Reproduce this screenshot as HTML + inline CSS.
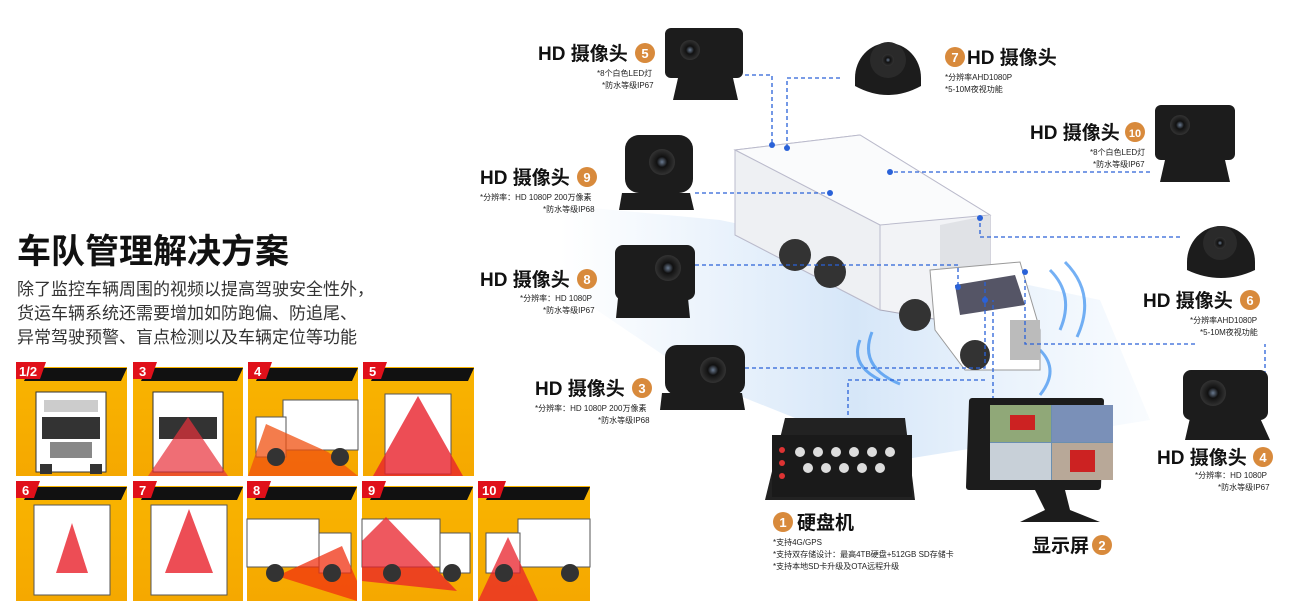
<!DOCTYPE html>
<html><head><meta charset="utf-8"><style>
html,body{margin:0;padding:0;background:#fff;}
svg{display:block;font-family:"Liberation Sans","Noto Sans CJK SC",sans-serif;}
.lb{font-size:19px;font-weight:bold;fill:#111;}
.sm{font-size:8px;fill:#222;}
.dash{stroke:#2a62d8;stroke-width:1.3;stroke-dasharray:4 3;fill:none;}
.bd{fill:#d88a3c;}
.bt{fill:#fff;font-size:13px;font-weight:bold;text-anchor:middle;}
.cam{fill:#1c1c1c;}
.hd{fill:#111;}
.nm{fill:#e0101a;}
.nt{font-size:13px;font-weight:bold;fill:#fff;}
</style></head><body>
<svg width="1300" height="615" viewBox="0 0 1300 615">
<defs>
<linearGradient id="sh" x1="0" y1="0" x2="1" y2="0"><stop offset="0" stop-color="#cfe3f8" stop-opacity="0"/><stop offset="0.5" stop-color="#c8def6"/><stop offset="1" stop-color="#d6e8fa" stop-opacity="0.2"/></linearGradient>
<linearGradient id="gr" x1="0" y1="0" x2="0" y2="1"><stop offset="0" stop-color="#f9b400"/><stop offset="1" stop-color="#f5a800"/></linearGradient>
<radialGradient id="lens"><stop offset="0" stop-color="#6a7a90"/><stop offset="0.4" stop-color="#111"/><stop offset="1" stop-color="#333"/></radialGradient>
</defs>

<text x="17" y="263" style="font-size:34px;font-weight:bold;fill:#111">车队管理解决方案</text>
<text x="17" y="295" style="font-size:17px;fill:#333">除了监控车辆周围的视频以提高驾驶安全性外，</text>
<text x="17" y="319" style="font-size:17px;fill:#333">货运车辆系统还需要增加如防跑偏、防追尾、</text>
<text x="17" y="343" style="font-size:17px;fill:#333">异常驾驶预警、盲点检测以及车辆定位等功能</text>

<!-- Tiles row 1 -->
<g transform="translate(16,362)"><rect y="5" width="111" height="109" fill="url(#gr)"/><polygon points="14,6 111,6 105,19 8,19" class="hd"/><polygon points="0,0 30,0 24,17 0,17" class="nm"/><text x="3" y="14" class="nt">1/2</text>
<rect x="20" y="30" width="70" height="80" fill="#fff" stroke="#333"/><rect x="28" y="38" width="54" height="12" fill="#ccc"/><rect x="26" y="55" width="58" height="22" fill="#333"/><rect x="34" y="80" width="42" height="16" fill="#888"/><rect x="24" y="102" width="12" height="10" fill="#333"/><rect x="74" y="102" width="12" height="10" fill="#333"/></g>
<g transform="translate(133,362)"><rect y="5" width="110" height="109" fill="url(#gr)"/><polygon points="14,6 110,6 104,19 8,19" class="hd"/><polygon points="0,0 24,0 18,17 0,17" class="nm"/><text x="6" y="14" class="nt">3</text>
<rect x="20" y="30" width="70" height="80" fill="#fff" stroke="#333"/><rect x="26" y="55" width="58" height="22" fill="#333"/><polygon points="55,55 15,114 95,114" fill="#e8303a" opacity="0.7"/></g>
<g transform="translate(248,362)"><rect y="5" width="110" height="109" fill="url(#gr)"/><polygon points="14,6 110,6 104,19 8,19" class="hd"/><polygon points="0,0 24,0 18,17 0,17" class="nm"/><text x="6" y="14" class="nt">4</text>
<rect x="35" y="38" width="75" height="50" fill="#fff" stroke="#555"/><rect x="8" y="55" width="30" height="40" fill="#fff" stroke="#555"/><polygon points="18,62 0,114 110,114 80,90" fill="#f05010" opacity="0.75"/><circle cx="28" cy="95" r="9" fill="#333"/><circle cx="92" cy="95" r="9" fill="#333"/></g>
<g transform="translate(363,362)"><rect y="5" width="111" height="109" fill="url(#gr)"/><polygon points="14,6 111,6 105,19 8,19" class="hd"/><polygon points="0,0 24,0 18,17 0,17" class="nm"/><text x="6" y="14" class="nt">5</text>
<rect x="22" y="32" width="66" height="80" fill="#fff" stroke="#555"/><polygon points="55,34 10,114 100,114" fill="#e8202a" opacity="0.8"/></g>

<!-- Tiles row 2 -->
<g transform="translate(16,481)"><rect y="5" width="111" height="115" fill="url(#gr)"/><polygon points="14,6 111,6 105,19 8,19" class="hd"/><polygon points="0,0 24,0 18,17 0,17" class="nm"/><text x="6" y="14" class="nt">6</text>
<rect x="18" y="24" width="76" height="90" fill="#fff" stroke="#555"/><polygon points="56,42 40,92 72,92" fill="#e8202a" opacity="0.8"/></g>
<g transform="translate(133,481)"><rect y="5" width="110" height="115" fill="url(#gr)"/><polygon points="14,6 110,6 104,19 8,19" class="hd"/><polygon points="0,0 24,0 18,17 0,17" class="nm"/><text x="6" y="14" class="nt">7</text>
<rect x="18" y="24" width="76" height="90" fill="#fff" stroke="#555"/><polygon points="56,28 32,92 80,92" fill="#e8202a" opacity="0.8"/></g>
<g transform="translate(247,481)"><rect y="5" width="110" height="115" fill="url(#gr)"/><polygon points="14,6 110,6 104,19 8,19" class="hd"/><polygon points="0,0 24,0 18,17 0,17" class="nm"/><text x="6" y="14" class="nt">8</text>
<rect x="0" y="38" width="72" height="48" fill="#fff" stroke="#555"/><rect x="72" y="52" width="32" height="40" fill="#fff" stroke="#555"/><polygon points="95,65 30,95 110,120 110,100" fill="#f03010" opacity="0.75"/><circle cx="28" cy="92" r="9" fill="#333"/><circle cx="85" cy="92" r="9" fill="#333"/></g>
<g transform="translate(362,481)"><rect y="5" width="111" height="115" fill="url(#gr)"/><polygon points="14,6 111,6 105,19 8,19" class="hd"/><polygon points="0,0 24,0 18,17 0,17" class="nm"/><text x="6" y="14" class="nt">9</text>
<rect x="0" y="38" width="78" height="48" fill="#fff" stroke="#555"/><rect x="78" y="52" width="30" height="40" fill="#fff" stroke="#555"/><polygon points="24,36 0,60 0,100 95,110" fill="#e8202a" opacity="0.75"/><circle cx="30" cy="92" r="9" fill="#333"/><circle cx="90" cy="92" r="9" fill="#333"/></g>
<g transform="translate(478,481)"><rect y="5" width="112" height="115" fill="url(#gr)"/><polygon points="14,6 112,6 106,19 8,19" class="hd"/><polygon points="0,0 28,0 22,17 0,17" class="nm"/><text x="4" y="14" class="nt">10</text>
<rect x="40" y="38" width="72" height="48" fill="#fff" stroke="#555"/><rect x="8" y="52" width="34" height="40" fill="#fff" stroke="#555"/><polygon points="30,56 0,120 60,120" fill="#e8202a" opacity="0.75"/><circle cx="26" cy="92" r="9" fill="#333"/><circle cx="92" cy="92" r="9" fill="#333"/></g>

<!-- Road shadow -->
<polygon points="560,205 720,220 1100,300 1150,420 900,460 700,380 560,285" fill="url(#sh)" opacity="0.75"/>
<g fill="none" stroke="#3a8ff0" stroke-width="3" opacity="0.7">
<path d="M860,340 q-10,25 20,40"/><path d="M872,332 q-14,35 28,52"/><path d="M1050,270 q25,25 10,60"/><path d="M1065,262 q32,32 12,75"/><path d="M1040,350 q20,20 0,45"/>
</g>

<!-- Truck -->
<polygon points="735,150 860,135 990,215 990,290 945,300 940,320 880,310 735,235" fill="#f2f3f6" stroke="#aab" stroke-width="1"/>
<polygon points="735,150 860,135 990,215 880,225" fill="#fafbfc" stroke="#bbc"/>
<polygon points="735,150 880,225 880,310 735,235" fill="#eef0f3" stroke="#bbc"/>
<polygon points="940,225 990,215 990,265 940,270" fill="#e0e2e6"/>
<polygon points="930,270 1020,262 1040,330 1040,370 965,370 935,330" fill="#fff" stroke="#999"/>
<polygon points="955,285 1015,275 1025,305 960,315" fill="#556"/>
<rect x="1010" y="320" width="30" height="40" fill="#bbb"/>
<circle cx="795" cy="255" r="16" fill="#333"/><circle cx="830" cy="272" r="16" fill="#333"/>
<circle cx="915" cy="315" r="16" fill="#333"/><circle cx="975" cy="355" r="15" fill="#333"/>

<!-- Dashed connectors -->
<path class="dash" d="M745,75 H772 V145"/>
<path class="dash" d="M840,78 H787 V148"/>
<path class="dash" d="M1150,172 H890"/>
<path class="dash" d="M695,193 H830"/>
<path class="dash" d="M1180,237 H980 V218"/>
<path class="dash" d="M695,265 H958 V287"/>
<path class="dash" d="M1195,344 H1025 V280"/>
<path class="dash" d="M745,368 H985 V280"/>
<path class="dash" d="M1265,375 V344"/>
<path class="dash" d="M848,415 V380 H985"/>
<path class="dash" d="M993,400 V300"/>
<g fill="#2a62d8"><circle cx="772" cy="145" r="3"/><circle cx="787" cy="148" r="3"/><circle cx="890" cy="172" r="3"/><circle cx="830" cy="193" r="3"/><circle cx="980" cy="218" r="3"/><circle cx="958" cy="287" r="3"/><circle cx="1025" cy="272" r="3"/><circle cx="985" cy="300" r="3"/></g>

<!-- Cameras -->
<g class="cam">
<rect x="665" y="28" width="78" height="50" rx="6"/><path d="M678,78 h55 l5,22 h-65z"/><circle cx="690" cy="50" r="10" fill="url(#lens)"/>
<path d="M855,78 a33,35 0 0 1 66,0 v8 q-33,18 -66,0z"/><circle cx="888" cy="60" r="18" fill="#2a2a2a"/><circle cx="888" cy="60" r="6" fill="url(#lens)"/>
<rect x="1155" y="105" width="80" height="55" rx="6"/><path d="M1165,160 h60 l5,22 h-70z"/><circle cx="1180" cy="125" r="10" fill="url(#lens)"/>
<rect x="625" y="135" width="68" height="58" rx="14"/><path d="M622,193 h68 l4,17 h-75z"/><circle cx="662" cy="162" r="13" fill="url(#lens)"/>
<rect x="615" y="245" width="80" height="55" rx="8"/><path d="M618,298 h70 l2,20 h-74z"/><circle cx="668" cy="268" r="13" fill="url(#lens)"/>
<path d="M1187,262 a34,36 0 0 1 68,0 v8 q-34,16 -68,0z"/><circle cx="1220" cy="243" r="17" fill="#2a2a2a"/><circle cx="1220" cy="243" r="6" fill="url(#lens)"/>
<rect x="665" y="345" width="80" height="50" rx="12"/><path d="M662,393 h80 l3,17 h-85z"/><circle cx="713" cy="370" r="13" fill="url(#lens)"/>
<rect x="1183" y="370" width="85" height="50" rx="8"/><path d="M1190,418 h70 l10,22 h-85z"/><circle cx="1213" cy="393" r="13" fill="url(#lens)"/>
<polygon points="785,418 905,418 915,500 765,500" fill="#222"/>
<rect x="772" y="435" width="140" height="62" fill="#1a1a1a"/>
<g fill="#ddd"><circle cx="800" cy="452" r="5"/><circle cx="818" cy="452" r="5"/><circle cx="836" cy="452" r="5"/><circle cx="854" cy="452" r="5"/><circle cx="872" cy="452" r="5"/><circle cx="890" cy="452" r="5"/><circle cx="808" cy="468" r="5"/><circle cx="826" cy="468" r="5"/><circle cx="844" cy="468" r="5"/><circle cx="862" cy="468" r="5"/><circle cx="880" cy="468" r="5"/></g>
<g fill="#d33"><circle cx="782" cy="450" r="3"/><circle cx="782" cy="463" r="3"/><circle cx="782" cy="476" r="3"/></g>
<rect x="983" y="398" width="135" height="92" rx="3" transform="skewX(-2)"/>
<rect x="990" y="405" width="123" height="75" fill="#6b8fb0"/>
<rect x="990" y="405" width="61" height="37" fill="#90a878"/><rect x="1052" y="405" width="61" height="37" fill="#7a90b8"/>
<rect x="990" y="443" width="61" height="37" fill="#c8d0d8"/><rect x="1052" y="443" width="61" height="37" fill="#b8a898"/>
<rect x="1010" y="415" width="25" height="15" fill="#c22"/><rect x="1070" y="450" width="25" height="22" fill="#c22"/>
<path d="M1035,490 h30 l5,20 l30,12 h-80 l25,-12z"/>
</g>

<!-- Labels -->
<text class="lb" x="538" y="60">HD 摄像头</text><circle class="bd" cx="645" cy="53" r="10"/><text class="bt" x="645" y="58">5</text>
<text class="sm" x="597" y="76">*8个白色LED灯</text><text class="sm" x="602" y="88">*防水等级IP67</text>

<circle class="bd" cx="955" cy="57" r="10"/><text class="bt" x="955" y="62">7</text><text class="lb" x="967" y="64">HD 摄像头</text>
<text class="sm" x="945" y="80">*分辨率AHD1080P</text><text class="sm" x="945" y="92">*5-10M夜视功能</text>

<text class="lb" x="1030" y="139">HD 摄像头</text><circle class="bd" cx="1135" cy="132" r="10"/><text class="bt" x="1135" y="137" style="font-size:11px">10</text>
<text class="sm" x="1090" y="155">*8个白色LED灯</text><text class="sm" x="1093" y="167">*防水等级IP67</text>

<text class="lb" x="480" y="184">HD 摄像头</text><circle class="bd" cx="587" cy="177" r="10"/><text class="bt" x="587" y="182">9</text>
<text class="sm" x="480" y="200">*分辨率：HD 1080P 200万像素</text><text class="sm" x="543" y="212">*防水等级IP68</text>

<text class="lb" x="480" y="286">HD 摄像头</text><circle class="bd" cx="587" cy="279" r="10"/><text class="bt" x="587" y="284">8</text>
<text class="sm" x="520" y="301">*分辨率：HD 1080P</text><text class="sm" x="543" y="313">*防水等级IP67</text>

<text class="lb" x="1143" y="307">HD 摄像头</text><circle class="bd" cx="1250" cy="300" r="10"/><text class="bt" x="1250" y="305">6</text>
<text class="sm" x="1190" y="323">*分辨率AHD1080P</text><text class="sm" x="1200" y="335">*5-10M夜视功能</text>

<text class="lb" x="535" y="395">HD 摄像头</text><circle class="bd" cx="642" cy="388" r="10"/><text class="bt" x="642" y="393">3</text>
<text class="sm" x="535" y="411">*分辨率：HD 1080P 200万像素</text><text class="sm" x="598" y="423">*防水等级IP68</text>

<text class="lb" x="1157" y="464">HD 摄像头</text><circle class="bd" cx="1263" cy="457" r="10"/><text class="bt" x="1263" y="462">4</text>
<text class="sm" x="1195" y="478">*分辨率：HD 1080P</text><text class="sm" x="1218" y="490">*防水等级IP67</text>

<circle class="bd" cx="783" cy="522" r="10"/><text class="bt" x="783" y="527">1</text><text class="lb" x="797" y="529">硬盘机</text>
<text class="sm" x="773" y="545">*支持4G/GPS</text><text class="sm" x="773" y="557">*支持双存储设计：最高4TB硬盘+512GB SD存储卡</text><text class="sm" x="773" y="569">*支持本地SD卡升级及OTA远程升级</text>

<text class="lb" x="1032" y="552">显示屏</text><circle class="bd" cx="1102" cy="545" r="10"/><text class="bt" x="1102" y="550">2</text>
</svg>
</body></html>
